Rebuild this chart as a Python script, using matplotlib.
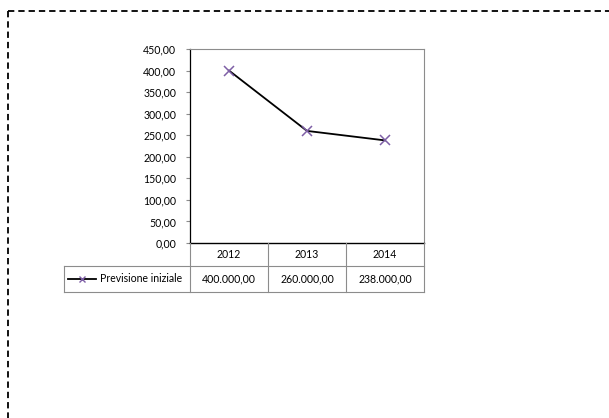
import matplotlib.pyplot as plt
from matplotlib.lines import Line2D

# dati della serie (in euro)
anni = ["2012", "2013", "2014"]
previsione = [400000, 260000, 238000]
nome_serie = "Previsione iniziale"
y_ticks = [0, 50, 100, 150, 200, 250, 300, 350, 400, 450]

W, H = 609, 418
plt.rcParams['font.family'] = ['Lato', 'DejaVu Sans']
FS = 7.6
GRIGIO = "#8c8c8c"
VIOLA = "#7e5fa6"


def fmt_it(v, dec=2):
    # formato italiano: punto per le migliaia, virgola per i decimali
    s = f"{v:,.{dec}f}"
    return s.replace(",", "X").replace(".", ",").replace("X", ".")


def fx(px):
    return px / W


def fy(py):
    return 1 - py / H


fig = plt.figure(figsize=(W / 100, H / 100), dpi=100)

# cornice tratteggiata
fig.add_artist(Line2D([fx(8), fx(620)], [fy(11), fy(11)], color="black", lw=1.3,
                      linestyle=(0, (3.5, 2.2))))
fig.add_artist(Line2D([fx(8), fx(8)], [fy(11), fy(430)], color="black", lw=1.3,
                      linestyle=(0, (3.5, 2.2))))

x0, x1, y0, y1 = 190, 424, 49, 243
ax = fig.add_axes([fx(x0), fy(y1), fx(x1 - x0), (y1 - y0) / H])

xs = range(len(anni))
ax.plot(xs, [v / 1000 for v in previsione], color="black", lw=1.3, zorder=2)
ax.plot(xs, [v / 1000 for v in previsione], linestyle="none", marker="x",
        color=VIOLA, markersize=6.5, mew=1.1, zorder=3)

ax.set_xlim(-0.5, len(anni) - 0.5)
ax.set_ylim(0, 450)
ax.set_yticks(y_ticks)
ax.set_yticklabels([fmt_it(t) for t in y_ticks], fontsize=FS)
ax.tick_params(axis="y", length=3, width=0.8, color=GRIGIO, pad=7)
ax.set_xticks([])
for lato in ["top", "right"]:
    ax.spines[lato].set_color(GRIGIO)
    ax.spines[lato].set_linewidth(0.8)
ax.spines["left"].set_color("black")
ax.spines["left"].set_linewidth(0.9)
ax.spines["bottom"].set_color("black")
ax.spines["bottom"].set_linewidth(1.0)

# tabella dati sotto il grafico
tab_l = 64
r0, r1, r2 = 243, 266, 292
col_w = (x1 - x0) / len(anni)
lw_t = 0.8
fig.add_artist(Line2D([fx(tab_l), fx(x1)], [fy(r1), fy(r1)], color=GRIGIO, lw=lw_t))
fig.add_artist(Line2D([fx(tab_l), fx(x1)], [fy(r2), fy(r2)], color=GRIGIO, lw=lw_t))
fig.add_artist(Line2D([fx(tab_l), fx(tab_l)], [fy(r1), fy(r2)], color=GRIGIO, lw=lw_t))
for i in range(len(anni) + 1):
    xc = x0 + i * col_w
    fig.add_artist(Line2D([fx(xc), fx(xc)], [fy(r0), fy(r2)], color=GRIGIO, lw=lw_t))

for i, (anno, v) in enumerate(zip(anni, previsione)):
    xm = x0 + (i + 0.5) * col_w
    fig.text(fx(xm), fy((r0 + r1) / 2), anno, fontsize=FS, ha="center", va="center")
    fig.text(fx(xm), fy((r1 + r2) / 2), fmt_it(v), fontsize=FS, ha="center", va="center")

# chiave della legenda nella tabella
ym = (r1 + r2) / 2
fig.add_artist(Line2D([fx(68), fx(96)], [fy(ym), fy(ym)], color="black", lw=1.3))
fig.add_artist(Line2D([fx(82)], [fy(ym)], marker="x", color=VIOLA, markersize=5, mew=1.0))
fig.text(fx(100), fy(ym), nome_serie, fontsize=FS, ha="left", va="center")

fig.savefig("out.png", dpi=100)
